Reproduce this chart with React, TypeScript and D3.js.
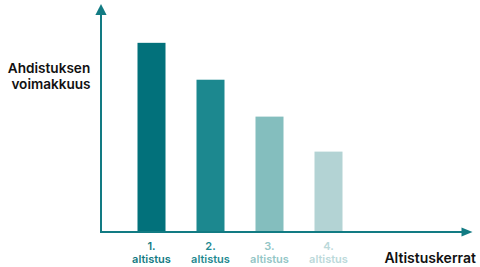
import React from "react";
import * as d3 from "d3";

const categories = ["1.", "2.", "3.", "4."];
const categorySub = ["altistus", "altistus", "altistus", "altistus"];
const values = [100, 80.5, 61, 42.5];
const barColors = ["#02717B", "#1C888F", "#84BEBE", "#B3D3D4"];
const labelColors = ["#137A82", "#1E8990", "#93C6C6", "#BBD9DA"];
const yTitle = ["Ahdistuksen", "voimakkuus"];
const xTitle = "Altistuskerrat";

const W = 480;
const H = 267;
const axisX = 101;
const axisY = 232;
const axisColor = "#127B83";

export default function App() {
  const x = d3
    .scalePoint<string>()
    .domain(categories)
    .range([151.5, 328.5]);
  const y = d3.scaleLinear().domain([0, 120]).range([axisY, 5]);
  const barW = 28;

  return (
    <svg
      width={W}
      height={H}
      style={{ position: "fixed", left: 0, top: 0, background: "#fff" }}
      fontFamily="Inter, 'Noto Sans', sans-serif"
    >
      <rect width={W} height={H} fill="#fff" />
      {values.map((v, i) => (
        <rect
          key={i}
          x={(x(categories[i]) as number) - barW / 2}
          y={y(v)}
          width={barW}
          height={axisY - y(v)}
          fill={barColors[i]}
        />
      ))}
      {/* axes */}
      <line x1={axisX} y1={14} x2={axisX} y2={axisY + 1} stroke={axisColor} strokeWidth={2} />
      <line x1={axisX - 1} y1={axisY} x2={463} y2={axisY} stroke={axisColor} strokeWidth={2} />
      <path d={`M${axisX},4 L${axisX + 5.6},15 L${axisX - 5.6},15 Z`} fill={axisColor} />
      <path d={`M472.5,${axisY} L461.5,${axisY - 4.5} L461.5,${axisY + 4.5} Z`} fill={axisColor} />
      {categories.map((c, i) => (
        <text key={c} fill={labelColors[i]} fontWeight={600} fontSize={11} textAnchor="middle">
          <tspan x={x(c)} y={250}>{c}</tspan>
          <tspan x={x(c)} y={262.5}>{categorySub[i]}</tspan>
        </text>
      ))}
      <text fontWeight={600} fontSize={13.6} fill="#111" textAnchor="middle">
        <tspan x={49} y={72.8}>{yTitle[0]}</tspan>
        <tspan x={51} y={89.4}>{yTitle[1]}</tspan>
      </text>
      <text x={476} y={262.5} textAnchor="end" fontWeight={600} fontSize={14} fill="#111">
        {xTitle}
      </text>
    </svg>
  );
}
